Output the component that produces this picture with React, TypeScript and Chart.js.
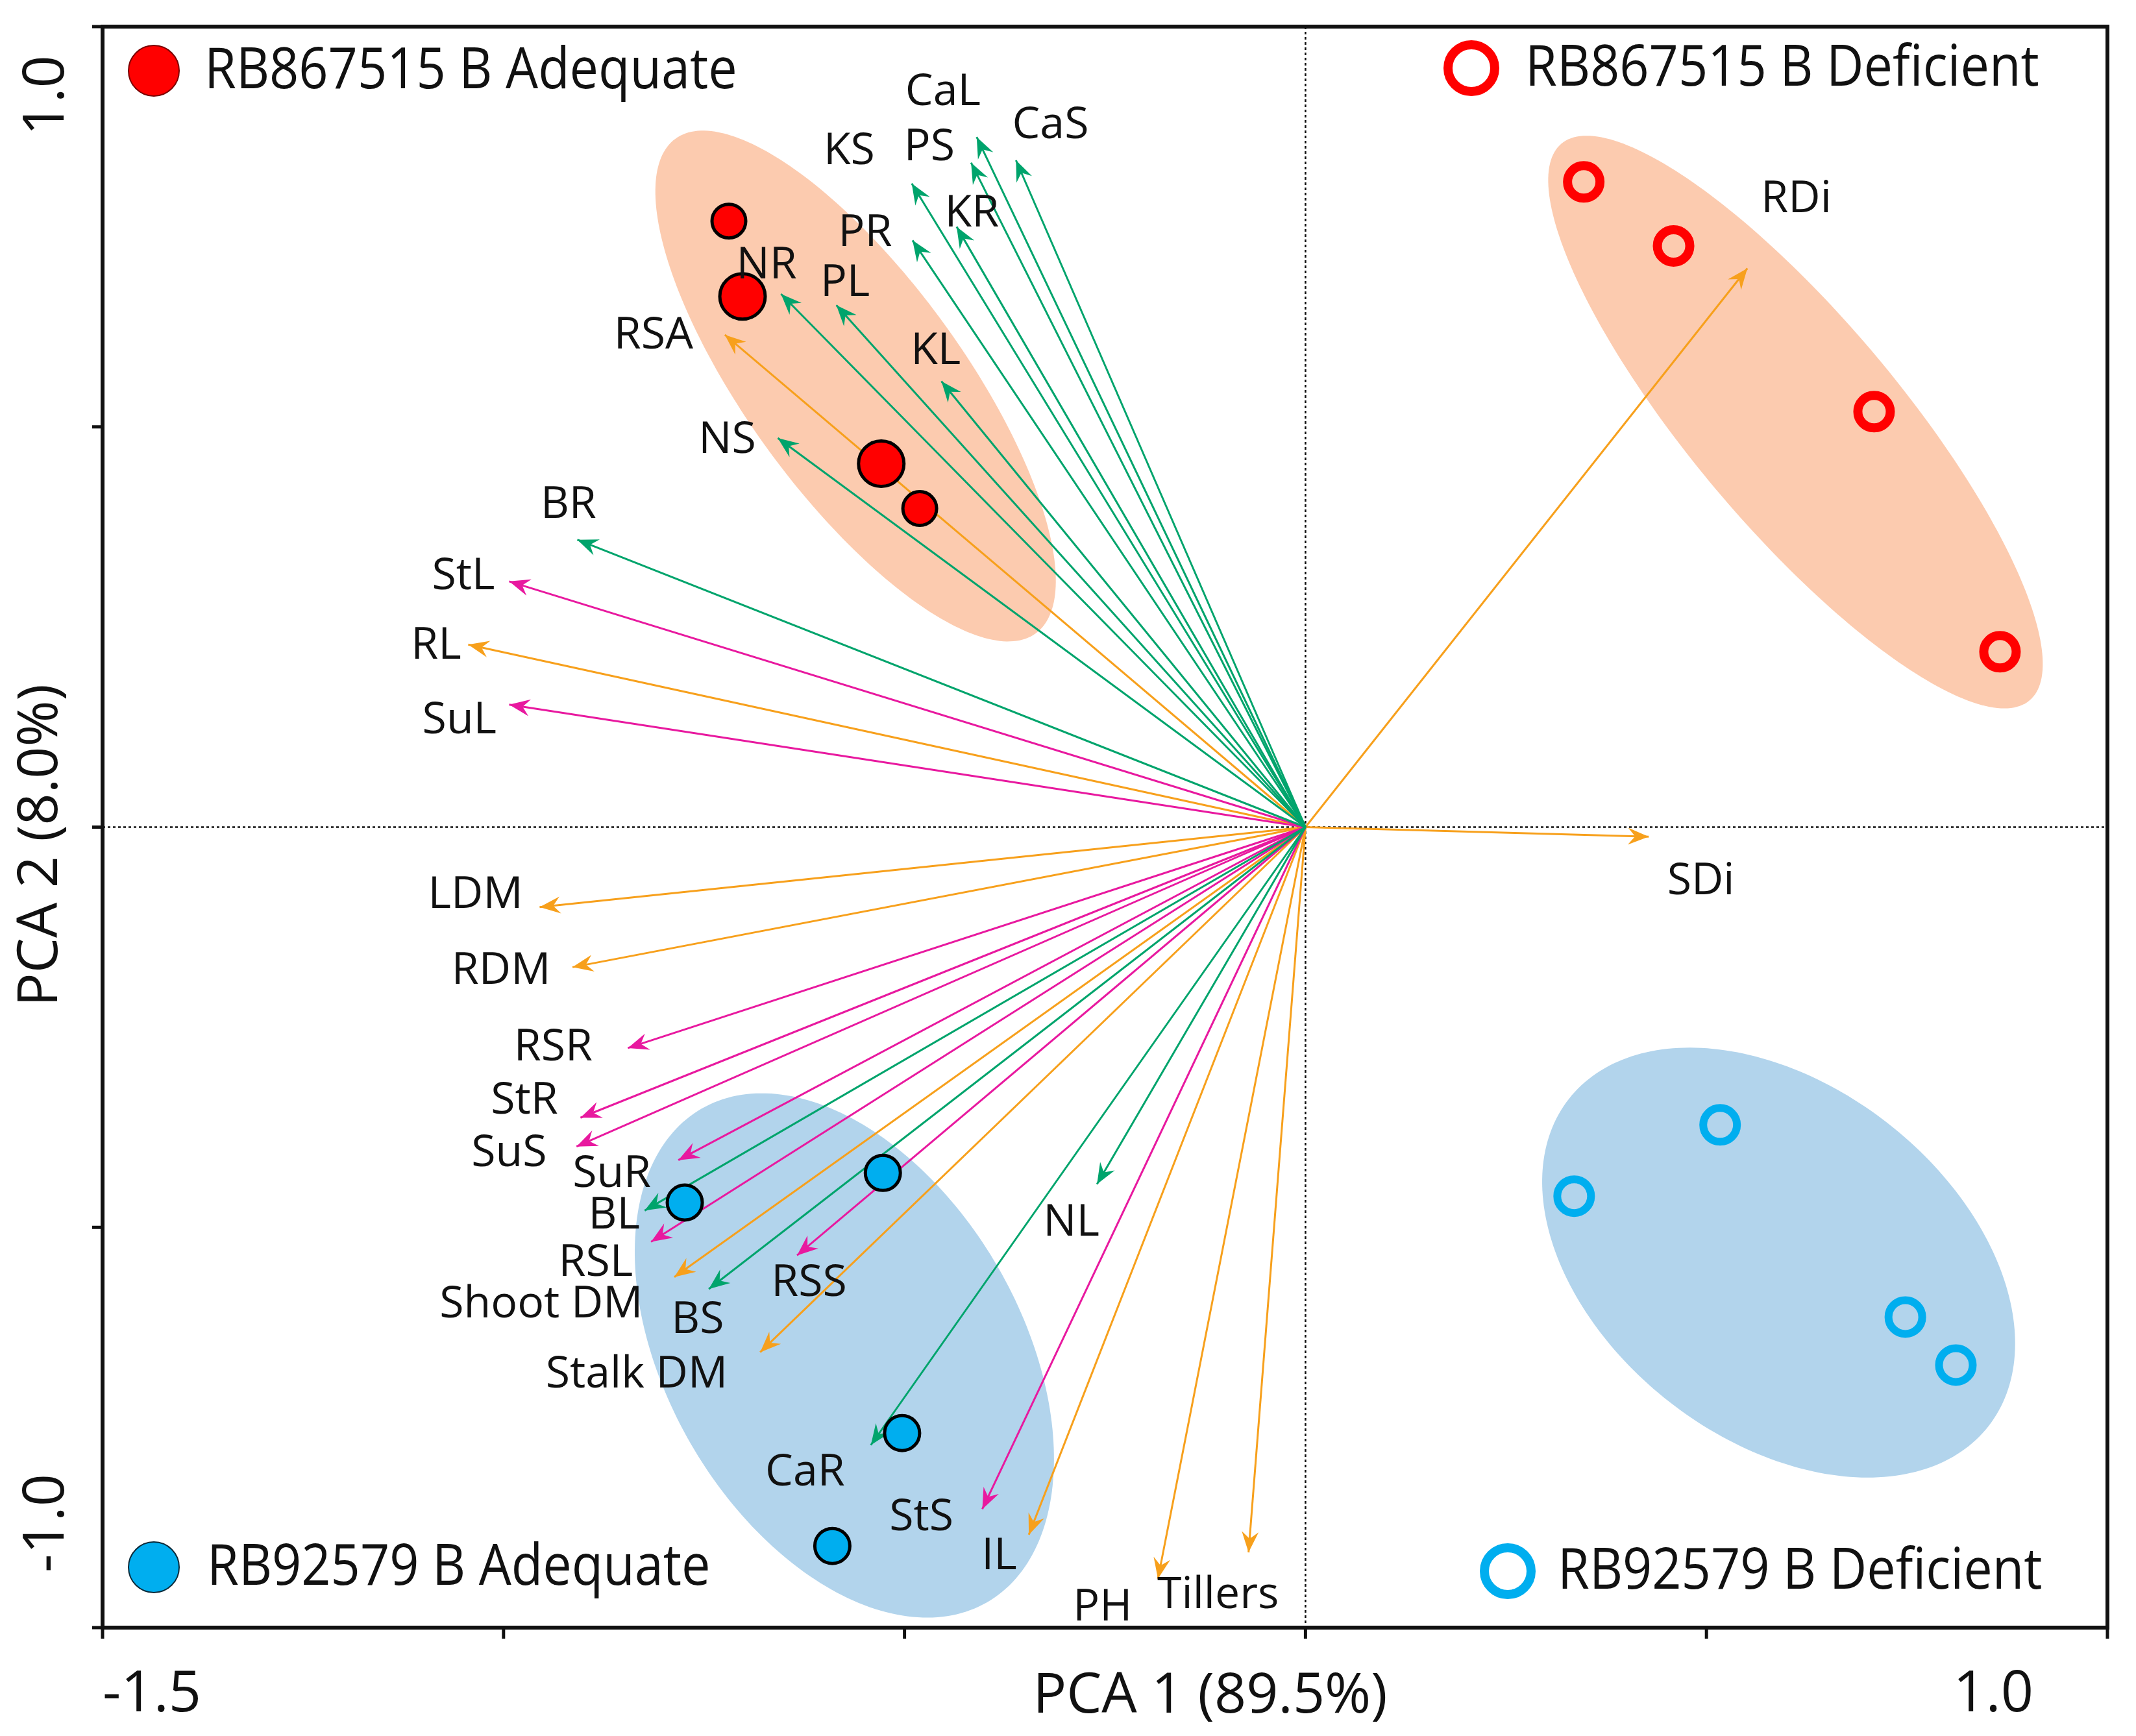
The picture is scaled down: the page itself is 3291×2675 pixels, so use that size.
import React, { useEffect, useRef } from 'react';
import { Chart, registerables } from 'chart.js';

Chart.register(...registerables);

// ---------- DATA ----------
const VARIABLES = [
  'CaL', 'CaS', 'PS', 'KS', 'KR', 'PR', 'NR', 'PL', 'KL', 'NS', 'BR', 'BL', 'BS', 'NL', 'CaR',
  'StL', 'SuL', 'RSR', 'StR', 'SuS', 'SuR', 'RSL', 'RSS', 'StS',
  'RSA', 'RL', 'LDM', 'RDM', 'Shoot DM', 'Stalk DM', 'IL', 'PH', 'Tillers', 'RDi', 'SDi',
];
const VARIABLE_GROUP = [
  'nutrient', 'nutrient', 'nutrient', 'nutrient', 'nutrient', 'nutrient', 'nutrient', 'nutrient',
  'nutrient', 'nutrient', 'nutrient', 'nutrient', 'nutrient', 'nutrient', 'nutrient',
  'carbohydrate', 'carbohydrate', 'carbohydrate', 'carbohydrate', 'carbohydrate', 'carbohydrate',
  'carbohydrate', 'carbohydrate', 'carbohydrate',
  'growth', 'growth', 'growth', 'growth', 'growth', 'growth', 'growth', 'growth', 'growth', 'growth', 'growth',
];
const LOADING_PC1 = [
  -0.410, -0.361, -0.417, -0.491, -0.435, -0.490, -0.654, -0.585, -0.454, -0.658, -0.908, -0.824, -0.744, -0.260, -0.542,
  -0.993, -0.993, -0.845, -0.904, -0.909, -0.782, -0.816, -0.634, -0.403,
  -0.724, -1.044, -0.955, -0.914, -0.787, -0.680, -0.345, -0.184, -0.071, 0.551, 0.428,
];
const LOADING_PC2 = [
  0.862, 0.833, 0.830, 0.804, 0.750, 0.733, 0.666, 0.652, 0.557, 0.486, 0.359, -0.479, -0.577, -0.446, -0.772,
  0.307, 0.153, -0.276, -0.363, -0.399, -0.416, -0.518, -0.535, -0.852,
  0.615, 0.228, -0.100, -0.175, -0.562, -0.656, -0.884, -0.939, -0.906, 0.698, -0.012,
];

const GROUPS = ['RB867515 B Adequate', 'RB867515 B Deficient', 'RB92579 B Adequate', 'RB92579 B Deficient'];
const RB867515_ADEQUATE_PC1 = [-0.719, -0.702, -0.529, -0.481];
const RB867515_ADEQUATE_PC2 = [0.757, 0.663, 0.454, 0.398];
const RB867515_DEFICIENT_PC1 = [0.347, 0.459, 0.709, 0.866];
const RB867515_DEFICIENT_PC2 = [0.806, 0.726, 0.519, 0.219];
const RB92579_ADEQUATE_PC1 = [-0.774, -0.527, -0.503, -0.590];
const RB92579_ADEQUATE_PC2 = [-0.469, -0.432, -0.757, -0.898];
const RB92579_DEFICIENT_PC1 = [0.517, 0.335, 0.748, 0.811];
const RB92579_DEFICIENT_PC2 = [-0.372, -0.461, -0.612, -0.672];

// confidence ellipses (data units): centre, semi-axes, rotation in degrees
const ELLIPSE_CX = [-0.561, 0.611, -0.575, 0.590];
const ELLIPSE_CY = [0.551, 0.506, -0.660, -0.544];
const ELLIPSE_A = [0.382, 0.454, 0.356, 0.332];
const ELLIPSE_B = [0.135, 0.130, 0.221, 0.221];
const ELLIPSE_ANGLE = [-54, -50, -60, -38];

const X_TICKS = [-1.5, -1.0, -0.5, 0, 0.5, 1.0];
const X_TICK_LABELS = ['-1.5', '', '', '', '', '1.0'];
const Y_TICKS = [-1.0, -0.5, 0, 0.5, 1.0];
const Y_TICK_LABELS = ['-1.0', '', '', '', '1.0'];
const X_TITLE = 'PCA 1 (89.5%)';
const Y_TITLE = 'PCA 2 (8.0%)';

// ---------- LAYOUT / STYLE ----------
const W = 3291;
const H = 2675;
const LABEL_ANCHORS: [number, number][] = [
  [-0.452, 0.918], [-0.318, 0.876], [-0.469, 0.849], [-0.569, 0.844], [-0.416, 0.766], [-0.549, 0.742],
  [-0.672, 0.701], [-0.574, 0.679], [-0.461, 0.594], [-0.721, 0.483], [-0.919, 0.402], [-0.862, -0.486],
  [-0.758, -0.616], [-0.292, -0.495], [-0.624, -0.807],
  [-1.050, 0.313], [-1.055, 0.133], [-0.938, -0.276], [-0.974, -0.342], [-0.993, -0.408], [-0.865, -0.434],
  [-0.885, -0.545], [-0.619, -0.570], [-0.479, -0.863],
  [-0.813, 0.614], [-1.084, 0.226], [-1.035, -0.085], [-1.003, -0.180], [-0.953, -0.597], [-0.834, -0.684],
  [-0.382, -0.911], [-0.253, -0.975], [-0.109, -0.960], [0.612, 0.784], [0.493, -0.068],
];
const GROUP_COLOR: Record<string, string> = {
  nutrient: '#00A46C',
  carbohydrate: '#E8199F',
  growth: '#F7A01C',
};
const RED = '#FF0000';
const BLUE = '#00AEEF';
const ELLIPSE_FILL = ['#FCCBAF', '#FCCBAF', '#B2D4EC', '#B2D4EC'];
const FONT = '"Open Sans", "Noto Sans", sans-serif';

const decorPlugin = {
  id: 'pcaDecor',
  beforeDatasetsDraw(chart: any) {
    const { ctx, chartArea: ca, scales } = chart;
    const xs = scales.x;
    const ys = scales.y;
    ctx.save();
    ctx.beginPath();
    ctx.rect(ca.left, ca.top, ca.right - ca.left, ca.bottom - ca.top);
    ctx.clip();
    for (let i = 0; i < ELLIPSE_CX.length; i++) {
      const phi = (ELLIPSE_ANGLE[i] * Math.PI) / 180;
      ctx.beginPath();
      for (let k = 0; k <= 240; k++) {
        const t = (k / 240) * Math.PI * 2;
        const dx = ELLIPSE_A[i] * Math.cos(t);
        const dy = ELLIPSE_B[i] * Math.sin(t);
        const vx = ELLIPSE_CX[i] + dx * Math.cos(phi) - dy * Math.sin(phi);
        const vy = ELLIPSE_CY[i] + dx * Math.sin(phi) + dy * Math.cos(phi);
        const px = xs.getPixelForValue(vx);
        const py = ys.getPixelForValue(vy);
        if (k === 0) ctx.moveTo(px, py);
        else ctx.lineTo(px, py);
      }
      ctx.closePath();
      ctx.fillStyle = ELLIPSE_FILL[i];
      ctx.fill();
    }
    // dotted zero lines
    const x0 = xs.getPixelForValue(0);
    const y0 = ys.getPixelForValue(0);
    ctx.setLineDash([4, 4]);
    ctx.lineWidth = 2.5;
    ctx.strokeStyle = '#111';
    ctx.beginPath();
    ctx.moveTo(x0, ca.top);
    ctx.lineTo(x0, ca.bottom);
    ctx.moveTo(ca.left, y0);
    ctx.lineTo(ca.right, y0);
    ctx.stroke();
    ctx.restore();
  },
  afterDatasetDraw(chart: any, args: any) {
    const ds = chart.data.datasets[args.index];
    if (!ds.isArrow) return;
    const meta = args.meta;
    const a = meta.data[0];
    const b = meta.data[1];
    const dx = b.x - a.x;
    const dy = b.y - a.y;
    const len = Math.hypot(dx, dy) || 1;
    const ux = dx / len;
    const uy = dy / len;
    const nx = -uy;
    const ny = ux;
    const L = 32;
    const HW = 13;
    const N = 21;
    const { ctx } = chart;
    ctx.save();
    ctx.fillStyle = ds.borderColor;
    ctx.beginPath();
    ctx.moveTo(b.x, b.y);
    ctx.lineTo(b.x - L * ux + HW * nx, b.y - L * uy + HW * ny);
    ctx.lineTo(b.x - N * ux, b.y - N * uy);
    ctx.lineTo(b.x - L * ux - HW * nx, b.y - L * uy - HW * ny);
    ctx.closePath();
    ctx.fill();
    ctx.restore();
  },
  afterDraw(chart: any) {
    const { ctx, chartArea: ca, scales } = chart;
    const xs = scales.x;
    const ys = scales.y;
    ctx.save();
    // variable labels
    ctx.fillStyle = '#111';
    ctx.font = `68px ${FONT}`;
    ctx.textAlign = 'center';
    ctx.textBaseline = 'middle';
    VARIABLES.forEach((name, i) => {
      const [lx, ly] = LABEL_ANCHORS[i];
      ctx.fillText(name, xs.getPixelForValue(lx), ys.getPixelForValue(ly));
    });

    // frame
    ctx.strokeStyle = '#111';
    ctx.lineWidth = 6;
    ctx.strokeRect(ca.left, ca.top, ca.right - ca.left, ca.bottom - ca.top);
    ctx.lineWidth = 5;
    ctx.beginPath();
    X_TICKS.forEach((v) => {
      const px = xs.getPixelForValue(v);
      ctx.moveTo(px, ca.bottom);
      ctx.lineTo(px, ca.bottom + 17);
    });
    Y_TICKS.forEach((v) => {
      const py = ys.getPixelForValue(v);
      ctx.moveTo(ca.left - 16, py);
      ctx.lineTo(ca.left, py);
    });
    ctx.stroke();

    // tick labels
    ctx.font = `88px ${FONT}`;
    ctx.textBaseline = 'middle';
    X_TICKS.forEach((v, i) => {
      const lab = X_TICK_LABELS[i];
      if (!lab) return;
      const px = xs.getPixelForValue(v);
      if (i === 0) {
        ctx.textAlign = 'left';
        ctx.fillText(lab, px, ca.bottom + 104);
      } else {
        ctx.textAlign = 'right';
        ctx.fillText(lab, px - 114, ca.bottom + 104);
      }
    });
    Y_TICKS.forEach((v, i) => {
      const lab = Y_TICK_LABELS[i];
      if (!lab) return;
      const py = ys.getPixelForValue(v);
      ctx.save();
      ctx.translate(ca.left - 85, i === 0 ? py - 161 : py + 106);
      ctx.rotate(-Math.PI / 2);
      ctx.textAlign = 'center';
      ctx.fillText(lab, 0, 0);
      ctx.restore();
    });

    // axis titles
    ctx.font = `86px ${FONT}`;
    ctx.textAlign = 'center';
    ctx.fillText(X_TITLE, (ca.left + ca.right) / 2 + 162, ca.bottom + 106);
    ctx.save();
    ctx.translate(ca.left - 95, (ca.top + ca.bottom) / 2 + 28);
    ctx.rotate(-Math.PI / 2);
    ctx.fillText(Y_TITLE, 0, 0);
    ctx.restore();

    // legend (corner keys)
    const keys = [
      { mx: ca.left + 79, my: ca.top + 68, tx: ca.left + 157, kind: 'filled', color: RED, edge: '#7a0000' },
      { mx: ca.right - 980, my: ca.top + 64, tx: ca.right - 897, kind: 'ring', color: RED, edge: RED },
      { mx: ca.left + 79, my: ca.bottom - 93, tx: ca.left + 161, kind: 'filled', color: BLUE, edge: '#0b2a3a' },
      { mx: ca.right - 924, my: ca.bottom - 87, tx: ca.right - 847, kind: 'ring', color: BLUE, edge: BLUE },
    ];
    keys.forEach((k, i) => {
      ctx.beginPath();
      if (k.kind === 'filled') {
        ctx.arc(k.mx, k.my, 39, 0, Math.PI * 2);
        ctx.fillStyle = k.color;
        ctx.fill();
        ctx.lineWidth = 2;
        ctx.strokeStyle = k.edge;
        ctx.stroke();
      } else {
        ctx.arc(k.mx, k.my, 36, 0, Math.PI * 2);
        ctx.lineWidth = 14;
        ctx.strokeStyle = k.color;
        ctx.stroke();
      }
      ctx.save();
      ctx.fillStyle = '#111';
      ctx.font = `88px ${FONT}`;
      ctx.textAlign = 'left';
      ctx.textBaseline = 'middle';
      ctx.translate(k.tx, k.my + 2);
      ctx.scale(0.9, 1);
      ctx.fillText(GROUPS[i], 0, 0);
      ctx.restore();
    });
    ctx.restore();
  },
};

function toPoints(xsArr: number[], ysArr: number[]) {
  return xsArr.map((v, i) => ({ x: v, y: ysArr[i] }));
}

export default function App() {
  const canvasRef = useRef<HTMLCanvasElement | null>(null);

  useEffect(() => {
    if (!canvasRef.current) return;
    const arrowSets = VARIABLES.map((name, i) => ({
      label: name,
      isArrow: true,
      data: [
        { x: 0, y: 0 },
        { x: LOADING_PC1[i], y: LOADING_PC2[i] },
      ],
      showLine: true,
      borderColor: GROUP_COLOR[VARIABLE_GROUP[i]],
      borderWidth: 3,
      pointRadius: 0,
      pointHoverRadius: 0,
      order: 2,
    }));
    const pointSets = [
      {
        label: GROUPS[0],
        data: toPoints(RB867515_ADEQUATE_PC1, RB867515_ADEQUATE_PC2),
        backgroundColor: RED,
        borderColor: '#000',
        borderWidth: 5,
        pointRadius: [26, 35, 35, 26],
        order: 0,
      },
      {
        label: GROUPS[1],
        data: toPoints(RB867515_DEFICIENT_PC1, RB867515_DEFICIENT_PC2),
        backgroundColor: 'rgba(0,0,0,0)',
        borderColor: RED,
        borderWidth: 14,
        pointRadius: 25,
        order: 0,
      },
      {
        label: GROUPS[2],
        data: toPoints(RB92579_ADEQUATE_PC1, RB92579_ADEQUATE_PC2),
        backgroundColor: BLUE,
        borderColor: '#000',
        borderWidth: 5,
        pointRadius: 27,
        order: 0,
      },
      {
        label: GROUPS[3],
        data: toPoints(RB92579_DEFICIENT_PC1, RB92579_DEFICIENT_PC2),
        backgroundColor: 'rgba(0,0,0,0)',
        borderColor: BLUE,
        borderWidth: 12,
        pointRadius: 26,
        order: 0,
      },
    ];

    const chart = new Chart(canvasRef.current, {
      type: 'scatter',
      data: { datasets: [...pointSets, ...arrowSets] as any },
      options: {
        animation: false,
        responsive: false,
        devicePixelRatio: 1,
        events: [],
        layout: { padding: { left: 158, top: 41, right: 44, bottom: 167 } },
        scales: {
          x: { type: 'linear', min: -1.5, max: 1.0, display: false },
          y: { type: 'linear', min: -1.0, max: 1.0, display: false },
        },
        plugins: {
          legend: { display: false },
          tooltip: { enabled: false },
        },
      } as any,
      plugins: [decorPlugin as any],
    });
    return () => chart.destroy();
  }, []);

  return (
    <div style={{ position: 'fixed', left: 0, top: 0, width: W, height: H, background: '#fff' }}>
      <canvas ref={canvasRef} width={W} height={H} style={{ width: W, height: H, display: 'block' }} />
    </div>
  );
}
